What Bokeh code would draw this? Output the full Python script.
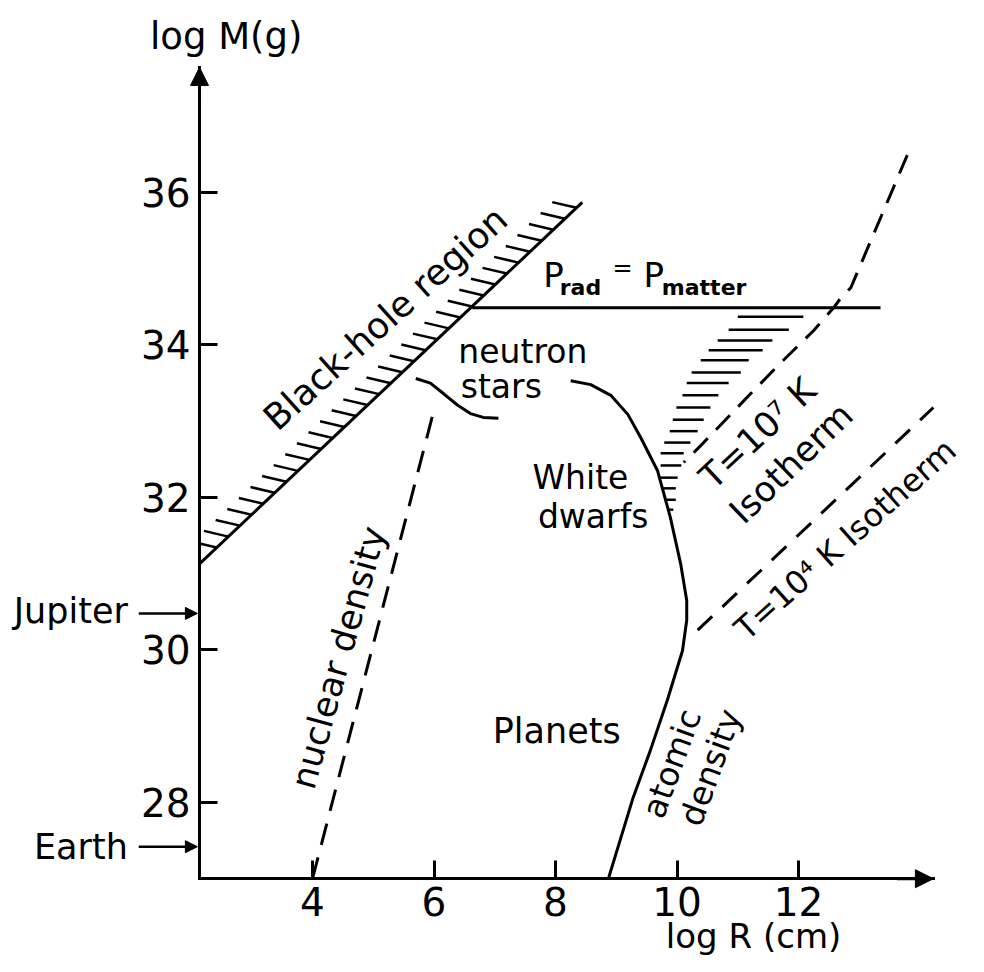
import numpy as np
from bokeh.plotting import figure
from bokeh.models import Range1d, FixedTicker, Label, Arrow, NormalHead
from bokeh.embed import file_html
from bokeh.resources import INLINE

# ---------------- data: x = log R (cm), y = log M (g) ----------------
x_ticks = [4, 6, 8, 10, 12]
y_ticks = [28, 30, 32, 34, 36]
x_axis_span = [2.14, 14.22]      # origin .. arrow tip
y_axis_span = [27.0, 37.64]

# black-hole boundary (hatched on the upper-left side)
bh_R = [2.14, 8.44]
bh_M = [31.13, 35.87]

# P_rad = P_matter
prad_R = [6.63, 13.35]
prad_M = [34.49, 34.49]

# neutron-star branch
ns_R = [5.70, 5.94, 6.16, 6.39, 6.60, 6.81, 7.06]
ns_M = [33.56, 33.50, 33.36, 33.21, 33.10, 33.05, 33.04]

# white dwarfs / atomic density curve
wd_R = [8.25, 8.58, 8.91, 9.19, 9.40, 9.68, 9.89, 10.06, 10.16, 10.16, 10.09, 9.84, 9.56, 9.28, 8.87]
wd_M = [33.53, 33.48, 33.34, 33.09, 32.79, 32.35, 31.74, 31.13, 30.65, 30.39, 29.99, 29.34, 28.68, 28.07, 27.0]

# nuclear density (dashed)
nuc_R = [4.0, 6.02]
nuc_M = [27.0, 33.21]

# T = 1e7 K isotherm (dashed)
t7_R = [13.79, 12.86, 12.69, 12.58, 12.25, 11.70, 11.21, 10.39, 10.11]
t7_M = [36.49, 34.75, 34.61, 34.49, 34.19, 33.76, 33.36, 32.68, 32.46]

# T = 1e4 K isotherm (dashed)
t4_R = [10.34, 14.22]
t4_M = [30.26, 33.18]

# horizontal hatching between white dwarfs and the 1e7 K isotherm
wdh_M = [34.37, 34.20, 34.06, 33.93, 33.80, 33.64, 33.50, 33.34, 33.18, 33.02,
         32.87, 32.72, 32.58, 32.42, 32.26, 32.12, 31.97, 31.84]
wdh_R0 = [11.00, 10.85, 10.67, 10.52, 10.39, 10.24, 10.16, 10.09, 9.99, 9.93,
          9.88, 9.79, 9.73, 9.73, 9.70, 9.75, 9.79, 9.84]
wdh_R1 = [12.08, 11.84, 11.57, 11.41, 11.18, 11.05, 10.85, 10.68, 10.55, 10.44,
          10.34, 10.22, 10.11, 10.07, 10.01, 9.98, 9.98, 9.94]

# reference masses marked on the mass axis
marker_names = ["Jupiter", "Earth"]
marker_M = [30.48, 27.42]

# ---------------- figure ----------------
W, H = 968, 956
p = figure(width=W, height=H, output_backend="svg", toolbar_location=None, title=None,
           x_range=Range1d(-1.1358, 14.798), y_range=Range1d(25.980, 38.518),
           min_border=0)
p.outline_line_color = None
p.grid.visible = False
p.background_fill_color = "white"
p.border_fill_color = "white"

FONT = "DejaVu Sans"
PX_PER_M = H / (38.518 - 25.980)

xa = p.xaxis[0]
ya = p.yaxis[0]
xa.fixed_location = y_axis_span[0]
ya.fixed_location = x_axis_span[0]
xa.bounds = (x_axis_span[0], x_axis_span[1])
ya.bounds = (y_axis_span[0], y_axis_span[1])
xa.ticker = FixedTicker(ticks=x_ticks)
ya.ticker = FixedTicker(ticks=y_ticks)
for ax in (xa, ya):
    ax.axis_line_width = 3
    ax.axis_line_color = "black"
    ax.axis_line_cap = "square"
    ax.major_tick_line_width = 3
    ax.major_tick_line_color = "black"
    ax.major_tick_in = 18
    ax.major_tick_out = 0
    ax.minor_tick_line_color = None
    ax.major_label_text_font = FONT
    ax.major_label_text_font_size = "39px"
    ax.major_label_text_color = "black"
xa.major_label_standoff = 8
ya.major_label_standoff = 9

# axis arrow heads
p.add_layout(Arrow(end=NormalHead(size=18, fill_color="black", line_color="black"),
                   x_start=x_axis_span[0], y_start=y_axis_span[1] - 0.5,
                   x_end=x_axis_span[0], y_end=y_axis_span[1],
                   line_width=3, line_color="black"))
p.add_layout(Arrow(end=NormalHead(size=18, fill_color="black", line_color="black"),
                   x_start=x_axis_span[1] - 0.6, y_start=y_axis_span[0],
                   x_end=x_axis_span[1], y_end=y_axis_span[0],
                   line_width=3, line_color="black"))

# Jupiter / Earth arrows
for name, m in zip(marker_names, marker_M):
    p.add_layout(Arrow(end=NormalHead(size=12, fill_color="black", line_color="black"),
                       x_start=x_axis_span[0] - 1.0, y_start=m,
                       x_end=x_axis_span[0] - 0.035, y_end=m,
                       line_width=2.5, line_color="black"))

# ---------------- curves ----------------
LW = 3
p.line(bh_R, bh_M, line_width=LW, line_color="black")
p.line(prad_R, prad_M, line_width=LW, line_color="black")
p.line(ns_R, ns_M, line_width=LW, line_color="black")
p.line(wd_R, wd_M, line_width=LW, line_color="black")
p.line(nuc_R, nuc_M, line_width=LW, line_color="black", line_dash="22 13")
p.line(t7_R, t7_M, line_width=LW, line_color="black", line_dash="20 12")
p.line(t4_R, t4_M, line_width=LW, line_color="black", line_dash="20 14")

# black-hole hatching (short ticks on the upper-left side of the boundary)
frac = np.linspace(0.045, 0.985, 32)
base_R = bh_R[0] + frac * (bh_R[1] - bh_R[0])
base_M = bh_M[0] + frac * (bh_M[1] - bh_M[0])
dR, dM = -0.40, 0.075
tip_R = base_R + dR
tip_M = base_M + dM
cut = tip_R < x_axis_span[0]
scale = (base_R[cut] - x_axis_span[0]) / (-dR)
tip_R[cut] = x_axis_span[0]
tip_M[cut] = base_M[cut] + dM * scale
p.segment(base_R, base_M, tip_R, tip_M, line_width=2.5, line_color="black")

# white-dwarf region hatching
p.segment(wdh_R0, wdh_M, wdh_R1, wdh_M, line_width=2.5, line_color="black")


# ---------------- texts ----------------
BASE_FIX = 11.0 / PX_PER_M   # renderer draws 'alphabetic' labels ~11px low


def lab(text, x, y, size, angle=0.0, align="left", baseline="alphabetic", style="normal"):
    if baseline == "alphabetic":
        y = y + BASE_FIX
    p.add_layout(Label(x=x, y=y, text=text, angle=angle, angle_units="deg",
                       text_align=align, text_baseline=baseline,
                       text_font=FONT, text_font_size=f"{size}px",
                       text_font_style=style, text_color="black"))


lab("log M(g)", 2.58, 37.90, 37, align="center")
lab("log R (cm)", 11.26, 26.10, 34, align="center")
for name, m, yb in zip(marker_names, marker_M, [30.37, 27.27]):
    lab(name, 0.96, yb, 35, align="right")

lab("Black-hole region", 5.20, 34.35, 36, angle=42, align="center", baseline="middle")

lab("P", 7.80, 34.78, 34)
lab("rad", 8.07, 34.61, 22, style="bold")
lab("=", 8.94, 34.86, 24)
lab("P", 9.45, 34.78, 34)
lab("matter", 9.75, 34.61, 22, style="bold")

lab("neutron", 6.40, 33.77, 33)
lab("stars", 6.44, 33.31, 33)
lab("White", 9.20, 32.12, 33, align="right")
lab("dwarfs", 9.53, 31.61, 33, align="right")
lab("Planets", 8.02, 28.79, 35, align="center")

lab("nuclear density", 4.43, 29.90, 35, angle=74.5, align="center", baseline="middle")
lab("atomic", 9.91, 28.51, 33, angle=70, align="center", baseline="middle")
lab("density", 10.55, 28.46, 33, angle=70, align="center", baseline="middle")

lab("T=10\u2077 K", 11.33, 32.84, 35, angle=43, align="center", baseline="middle")
lab("Isotherm", 11.88, 32.45, 35, angle=44, align="center", baseline="middle")
lab("T=10\u2074 K Isotherm", 12.77, 31.45, 32, angle=41.7, align="center", baseline="middle")

open("out.html", "w").write(file_html(p, INLINE))
